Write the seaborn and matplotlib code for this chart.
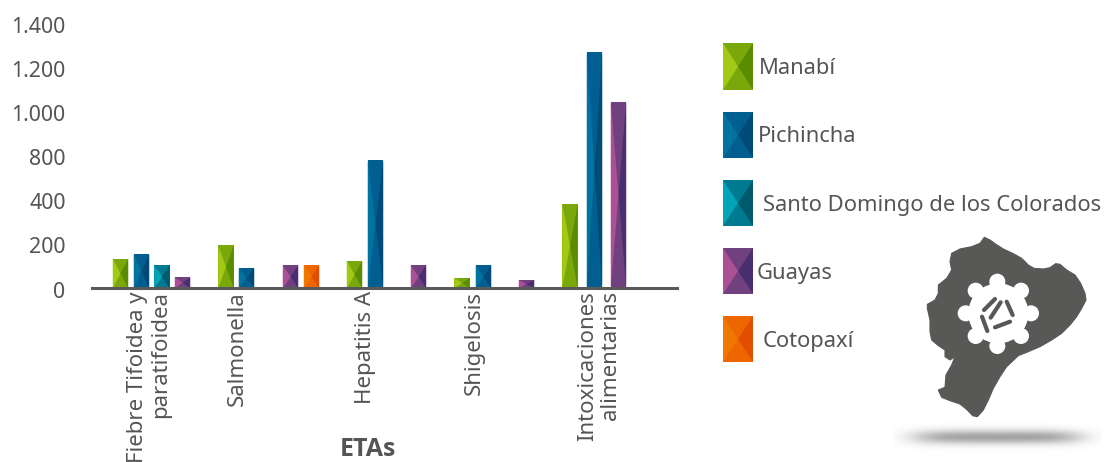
import numpy as np
import pandas as pd
import matplotlib
matplotlib.use("Agg")
import matplotlib.pyplot as plt
from matplotlib.patches import Polygon, Circle
from matplotlib.transforms import ScaledTranslation
import seaborn as sns

# ---- data ----
regions = ["Manabí", "Pichincha", "Santo Domingo de los Colorados", "Guayas", "Cotopaxí"]
bar_region = ["Manabí", "Pichincha", "Santo Domingo de los Colorados", "Guayas",
              "Manabí", "Pichincha",
              "Guayas", "Cotopaxí",
              "Manabí", "Pichincha",
              "Guayas",
              "Manabí", "Pichincha",
              "Guayas",
              "Manabí", "Pichincha", "Guayas"]
bar_value = [135, 155, 105, 50,
             195, 92,
             105, 105,
             125, 765,
             105,
             48, 105,
             38,
             385, 1275, 1048]
bar_slot = [120.5, 141.5, 162, 182.5,
            226, 246.5,
            290.5, 311.5,
            354.5, 375.5,
            418.5,
            462, 483.5,
            526.5,
            570, 594.5, 618.5]
group_labels = ["Fiebre Tifoidea y\nparatifoidea", "Salmonella", "Hepatitis A", "Shigelosis",
                "Intoxicaciones\nalimentarias"]
group_slot = [149, 237, 365, 474, 599]
y_ticks = [0, 200, 400, 800, 1000, 1200, 1400]
y_labels = ["0", "200", "400", "800", "1.000", "1.200", "1.400"]

base = {"Manabí": "#7aa80a", "Pichincha": "#005f90", "Santo Domingo de los Colorados": "#007a90",
        "Guayas": "#70407f", "Cotopaxí": "#ee6600"}
left = {"Manabí": "#a2ca14", "Pichincha": "#00739f", "Santo Domingo de los Colorados": "#00a5b8",
        "Guayas": "#ab5095", "Cotopaxí": "#f07800"}
right = {"Manabí": "#5a8c00", "Pichincha": "#004a78", "Santo Domingo de los Colorados": "#005a6e",
         "Guayas": "#4a2f70", "Cotopaxí": "#e24e00"}

# ---- theme ----
sns.set_theme(style="white")
plt.rcParams["font.family"] = ["Noto Sans", "DejaVu Sans"]
GREY = "#555555"
W, H = 1105, 462
fig = plt.figure(figsize=(W / 100, H / 100), dpi=100, facecolor="white")
ax = fig.add_axes([92 / W, 1 - 288.3 / H, (677 - 92) / W, (288.3 - 24) / H])


def facets(a, x0, x1, y0, y1, region, ymid=None, zorder=3):
    xm = (x0 + x1) / 2
    ym = (y0 + y1) / 2 if ymid is None else ymid
    a.add_patch(Polygon([(x0, y0), (x0, y1), (xm, ym)], fc=left[region], ec="none", lw=0, zorder=zorder))
    a.add_patch(Polygon([(x1, y0), (x1, y1), (xm, ym)], fc=right[region], ec="none", lw=0, zorder=zorder))


# y axis follows the printed labels, which are evenly spaced but skip 600
idx = np.arange(len(y_ticks))
ax.set_yscale("function", functions=(lambda v: np.interp(v, y_ticks, idx),
                                     lambda v: np.interp(v, idx, y_ticks)))

df = pd.DataFrame({"slot": bar_slot, "value": bar_value, "region": bar_region})
sns.barplot(data=df, x="slot", y="value", hue="region", hue_order=regions, palette=base,
            native_scale=True, dodge=False, width=15.5 / 20.5, saturation=1, legend=False,
            linewidth=0, ax=ax)

ax.set_xlim(92, 677)
ax.set_ylim(0, 1400)
rev = {v: k for k, v in base.items()}
for p in list(ax.patches):
    region = rev[matplotlib.colors.to_hex(p.get_facecolor())]
    x0, x1 = p.get_x(), p.get_x() + p.get_width()
    top = p.get_height()
    # apex half way up the drawn bar, in display terms
    ymid = float(np.interp((np.interp(top, y_ticks, idx)) / 2, idx, y_ticks))
    facets(ax, x0, x1, 0, top, region, ymid=ymid)

for s in ["top", "right", "left"]:
    ax.spines[s].set_visible(False)
ax.spines["bottom"].set_color("#5a5a5a")
ax.spines["bottom"].set_linewidth(2.2)
ax.spines["bottom"].set_zorder(5)
ax.patch.set_alpha(0)
ax.set_yticks(y_ticks, y_labels, fontsize=15.4, color=GREY)
ax.set_xticks(group_slot, group_labels, rotation=90, fontsize=16, color=GREY, linespacing=1.08,
              ha="center", va="top", multialignment="right")
ax.tick_params(axis="both", length=0)
ax.tick_params(axis="y", pad=19)
ax.tick_params(axis="x", pad=2)
shift = ScaledTranslation(0, -1.2 / 100, fig.dpi_scale_trans)
for lab in ax.get_yticklabels():
    lab.set_transform(lab.get_transform() + shift)
ax.set_xlabel("")
ax.set_ylabel("")
fig.text(368 / W, 1 - 450 / H, "ETAs", fontsize=18, fontweight="bold", family="Open Sans",
         color=GREY, ha="center", va="center")

# ---- overlay in pixel space: legend and emblem ----
ov = fig.add_axes([0, 0, 1, 1], facecolor="none")
ov.axis("off")

leg_y = [(43, 90), (112, 158), (180, 226), (248, 294), (316, 362)]
leg_x = [759, 758, 763, 757, 763]
for r, (y0, y1), tx in zip(regions, leg_y, leg_x):
    ov.add_patch(Polygon([(723, y0), (753, y0), (753, y1), (723, y1)], fc=base[r], ec="none"))
    facets(ov, 723, 753, y0, y1, r)
    ov.text(tx, (y0 + y1) / 2 + 2, r, fontsize=15.8, color=GREY, va="center", ha="left")

# shadow
yy, xx = np.mgrid[418:454, 893:1102]
a = np.exp(-(np.abs((xx - 997) / 84) ** 5)) * np.exp(-(((yy - 436.5) / 7.0) ** 2)) * 0.62
img = np.zeros(a.shape + (4,))
img[..., :3] = 0.42
img[..., 3] = a
ov.imshow(img, extent=(893, 1102, 454, 418), aspect="auto", interpolation="bilinear", zorder=1)

# emblem outline (decoration, traced in zoomed crop coordinates)
outline = [(283, 37), (300, 45), (318, 58), (340, 72), (368, 85), (395, 100), (415, 120), (432, 130),
           (460, 132), (480, 128), (497, 116), (510, 118), (530, 135), (555, 150), (572, 175), (585, 205),
           (588, 225), (575, 250), (560, 275), (540, 300), (515, 325), (485, 345), (450, 365), (415, 380),
           (385, 392), (350, 425), (330, 455), (310, 490), (295, 525), (280, 555), (262, 575), (248, 572),
           (232, 555), (210, 537), (180, 527), (155, 517), (145, 495), (165, 487), (168, 450), (185, 420),
           (195, 395), (180, 405), (165, 395), (165, 375), (145, 362), (125, 345), (120, 320), (120, 285),
           (112, 250), (112, 238), (135, 225), (145, 205), (145, 180), (170, 160), (185, 135), (180, 110),
           (185, 85), (210, 72), (245, 65), (270, 55)]


def z(pt):
    return (890 + pt[0] / 3, 225 + pt[1] / 3)


DARK = "#585856"
ov.add_patch(Polygon([z(p) for p in outline], fc=DARK, ec=DARK, lw=0.8, joinstyle="round", zorder=2))
c = z((325, 265))
ov.add_patch(Circle(c, 30, fc="white", ec="none", zorder=3))
for b in [(322, 170), (393, 197), (423, 265), (393, 333), (322, 363), (257, 333), (227, 265), (257, 197)]:
    q = z(b)
    ov.add_patch(Circle(q, 8, fc="white", ec="none", zorder=3))
    ov.plot([c[0], q[0]], [c[1], q[1]], color="white", lw=8.5, zorder=3)
for s, e in [((276, 275), (292, 318)), ((315, 307), (360, 290)), ((350, 230), (368, 270)),
             ((282, 255), (315, 222)), ((302, 278), (332, 232))]:
    s, e = z(s), z(e)
    ov.plot([s[0], e[0]], [s[1], e[1]], color=DARK, lw=3.0, solid_capstyle="round", zorder=4)

ov.set_xlim(0, W)
ov.set_ylim(H, 0)

fig.savefig("out.png", dpi=100)
